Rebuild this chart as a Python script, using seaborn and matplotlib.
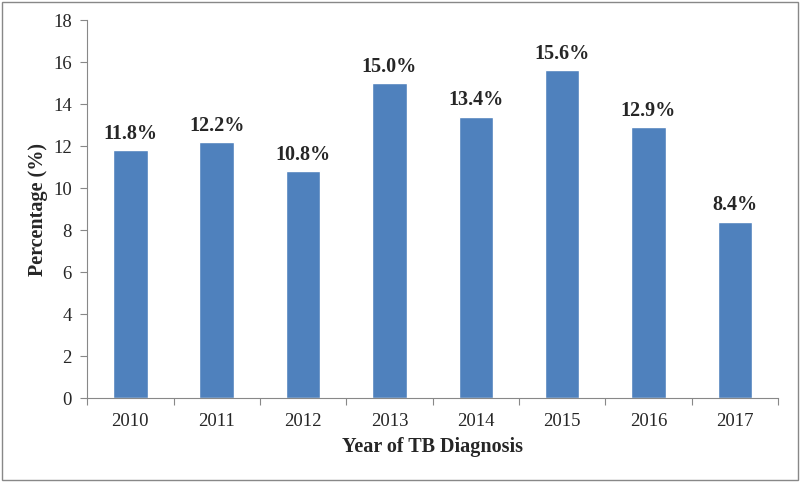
"""Percentage by year of TB diagnosis, Excel-style bar chart."""
import matplotlib

matplotlib.use("Agg")
import matplotlib.pyplot as plt
from matplotlib.patches import Rectangle
from matplotlib.ticker import FixedLocator
import numpy as np
import pandas as pd
import seaborn as sns

years = ["2010", "2011", "2012", "2013", "2014", "2015", "2016", "2017"]
percentages = [11.8, 12.2, 10.8, 15.0, 13.4, 15.6, 12.9, 8.4]

sns.set_theme(style="white")
plt.rcParams["font.family"] = ["Liberation Serif", "DejaVu Serif"]

df = pd.DataFrame({"year": years, "pct": percentages})

fig = plt.figure(figsize=(8, 4.82), dpi=100)
ax = fig.add_axes([0.109, 0.174, 0.8635, 0.7845])

sns.barplot(data=df, x="year", y="pct", color="#4F81BD", saturation=1, width=0.4, ax=ax)

for i, v in enumerate(percentages):
    ax.text(i, v + 0.3, f"{v:.1f}%", ha="center", va="bottom", fontsize=14.5, fontweight="bold")

ax.set_ylim(0, 18)
ax.set_yticks(np.arange(0, 19, 2))
ax.set_xlim(-0.5, len(years) - 0.5)
ax.xaxis.set_minor_locator(FixedLocator(np.arange(-0.5, len(years), 1)))
ax.tick_params(axis="x", which="major", length=0, labelsize=13.5, pad=11)
ax.tick_params(axis="x", which="minor", length=5, width=0.8, color="#888888", direction="out", bottom=True)
ax.tick_params(axis="y", which="major", length=5, width=0.8, color="#888888", direction="out", left=True,
               labelsize=13.5, pad=6)

for side in ["top", "right"]:
    ax.spines[side].set_visible(False)
for side in ["left", "bottom"]:
    ax.spines[side].set_color("#888888")
    ax.spines[side].set_linewidth(0.8)

ax.set_xlabel("Year of TB Diagnosis", fontsize=14.5, fontweight="bold", labelpad=5)
ax.set_ylabel("Percentage (%)", fontsize=14.5, fontweight="bold", labelpad=4)

fig.patches.append(Rectangle((0.003, 0.004), 0.994, 0.992, transform=fig.transFigure,
                             fill=False, edgecolor="#888888", linewidth=1))

fig.savefig("out.png", dpi=100)
plt.close(fig)
